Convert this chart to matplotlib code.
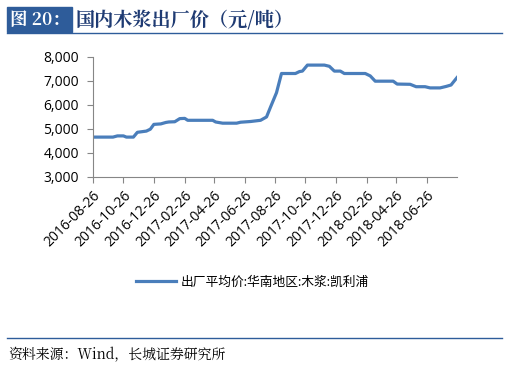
import matplotlib
matplotlib.use("Agg")
import matplotlib.pyplot as plt
import pandas as pd

# data
dates = ["2016-08-26", "2016-10-05", "2016-10-14", "2016-10-26", "2016-11-01",
         "2016-11-15", "2016-11-23", "2016-12-11", "2016-12-19", "2016-12-26",
         "2017-01-09", "2017-01-19", "2017-01-25", "2017-02-06", "2017-02-16",
         "2017-02-26", "2017-03-04", "2017-03-24", "2017-04-23", "2017-04-29",
         "2017-05-13", "2017-06-10", "2017-06-18", "2017-07-08", "2017-07-28",
         "2017-08-09", "2017-08-17", "2017-08-29", "2017-09-08", "2017-10-06",
         "2017-10-14", "2017-10-20", "2017-10-30", "2017-12-03", "2017-12-13",
         "2017-12-23", "2018-01-04", "2018-01-12", "2018-02-23", "2018-03-05",
         "2018-03-15", "2018-04-20", "2018-04-28", "2018-05-24", "2018-05-30",
         "2018-06-05", "2018-06-23", "2018-07-03", "2018-07-23", "2018-08-04",
         "2018-08-14", "2018-08-26"]
prices = [4650, 4650, 4700, 4700, 4650,
          4650, 4850, 4900, 4980, 5180,
          5200, 5260, 5280, 5290, 5420,
          5430, 5350, 5350, 5350, 5280,
          5230, 5230, 5270, 5300, 5350,
          5490, 5900, 6500, 7300, 7300,
          7380, 7400, 7650, 7650, 7600,
          7400, 7400, 7300, 7300, 7200,
          6980, 6980, 6860, 6850, 6800,
          6750, 6750, 6700, 6700, 6760,
          6820, 7130]
tick_labels = ["2016-08-26", "2016-10-26", "2016-12-26", "2017-02-26",
               "2017-04-26", "2017-06-26", "2017-08-26", "2017-10-26",
               "2017-12-26", "2018-02-26", "2018-04-26", "2018-06-26"]
y_ticks = [3000, 4000, 5000, 6000, 7000, 8000]
series_name = "出厂平均价:华南地区:木浆:凯利浦"

plt.rcParams['font.family'] = ['Open Sans', 'Noto Sans CJK SC', 'DejaVu Sans']
serif_cjk = ["Noto Serif CJK SC", "Noto Sans CJK SC", "DejaVu Serif"]

fig = plt.figure(figsize=(5.16, 3.71), dpi=100)
W, H = 516, 371

# header
fig.patches.append(plt.Rectangle((7 / W, 1 - 32 / H), 65 / W, 25 / H,
                                 transform=fig.transFigure, color="#2E5C9A"))
fig.text(10 / W, 1 - 20 / H, "图 20：", color="white", fontsize=12.5, weight="bold",
         family=serif_cjk, va="center")
fig.text(75 / W, 1 - 20 / H, "国内木浆出厂价（元/吨）", color="#1F3B73", fontsize=13.8,
         weight="bold", family=serif_cjk, va="center")
fig.add_artist(plt.Line2D([7 / W, 502 / W], [1 - 33 / H, 1 - 33 / H], color="#2E5C9A", lw=1))

# footer
fig.add_artist(plt.Line2D([7 / W, 502 / W], [1 - 338 / H, 1 - 338 / H], color="#2E5C9A", lw=1))
fig.text(8 / W, 1 - 355 / H, "资料来源：Wind，长城证券研究所", fontsize=10, style="italic",
         family=serif_cjk, va="center")

ax = fig.add_axes([93 / W, 1 - 176.7 / H, 364 / W, 120 / H])
x = pd.to_datetime(dates)
ax.plot(x, prices, color="#4A7EBB", lw=2.3, solid_joinstyle="round")

ax.set_ylim(3000, 8000)
ax.set_yticks(y_ticks)
ax.set_yticklabels([f"{v:,}" for v in y_ticks], fontsize=10)
ax.set_xlim(pd.Timestamp("2016-08-26"), pd.Timestamp("2018-08-26"))
ax.set_xticks(pd.to_datetime(tick_labels))
ax.set_xticklabels(tick_labels, fontsize=10, rotation=45, ha="right",
                   rotation_mode="anchor")

for side in ["top", "right"]:
    ax.spines[side].set_visible(False)
for side in ["left", "bottom"]:
    ax.spines[side].set_color("#868686")
ax.tick_params(axis="both", colors="#868686", labelcolor="black", length=4, width=0.8)
ax.tick_params(axis="y", pad=6)
ax.tick_params(axis="x", pad=4)

# legend
fig.legend([plt.Line2D([], [], color="#4A7EBB", lw=2.3)], [series_name],
           loc="center", bbox_to_anchor=(252 / W, 1 - 282 / H), frameon=False,
           fontsize=9.2, handlelength=3.2, handletextpad=0.3)

fig.savefig("out.png", dpi=100)
